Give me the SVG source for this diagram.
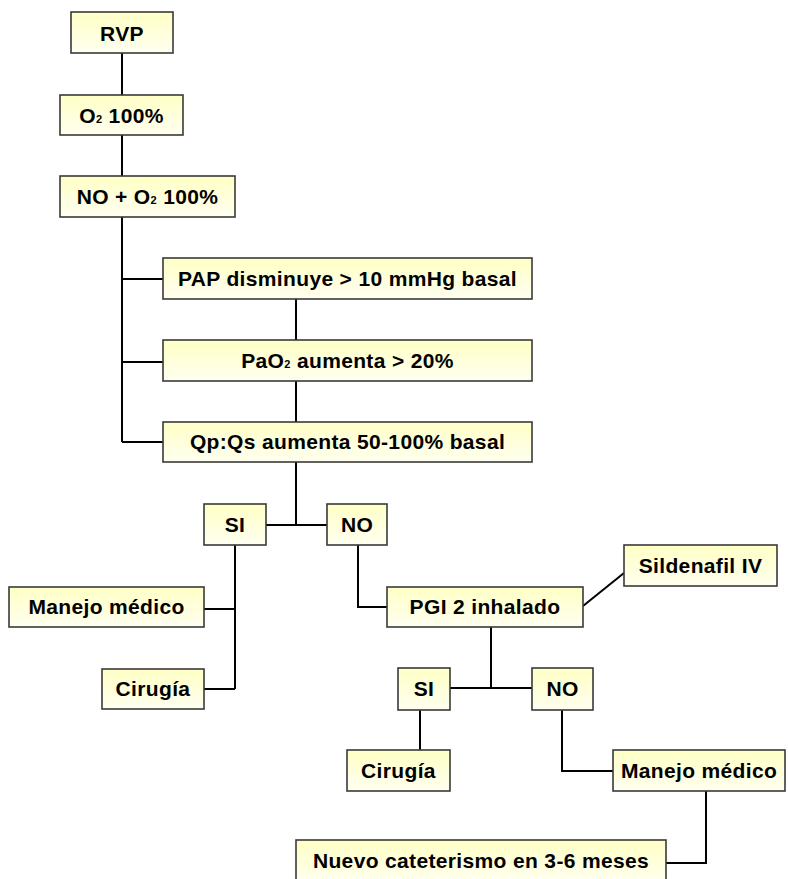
<svg xmlns="http://www.w3.org/2000/svg" width="788" height="879" viewBox="0 0 788 879">
  <defs>
    <linearGradient id="fillGrad" x1="0" y1="0" x2="0" y2="1">
      <stop offset="0" stop-color="#FFFFC6"/>
      <stop offset="1" stop-color="#FFFFF0"/>
    </linearGradient>
  </defs>
  <style>
    .box { fill: url(#fillGrad); stroke: #3a3a3a; stroke-width: 1.6; }
    .lbl { font-family: "Liberation Sans", Arial, sans-serif; font-weight: bold; font-size: 21px; letter-spacing: 0.35px; fill: #000; text-anchor: middle; }
    .sub { font-size: 11px; }
    .conn { fill: none; stroke: #000; stroke-width: 2; }
  </style>
  <rect width="788" height="879" fill="#FFFFFF"/>

  <g id="connectors" class="conn">
    <path d="M122,53 V95"/>
    <path d="M122,135 V176"/>
    <path d="M122,217 V442 M122,279 H163 M122,362 H163 M122,442 H163"/>
    <path d="M296,299 V340"/>
    <path d="M296,381 V422"/>
    <path d="M296,462 V525 M266,525 H327"/>
    <path d="M235,545 V689 M204,609 H235 M204,689 H235"/>
    <path d="M358,545 V607 H387"/>
    <path d="M583,606 L624,573"/>
    <path d="M491,627 V688 M450,688 H532"/>
    <path d="M420,710 V750"/>
    <path d="M562,710 V771 H613"/>
    <path d="M706,791 V863 H666"/>
  </g>

  <g id="rvp"><rect class="box" x="71" y="12" width="102" height="41"/><text class="lbl" x="122" y="41">RVP</text></g>
  <g id="o2"><rect class="box" x="60" y="95" width="123" height="40"/><text class="lbl" x="121.5" y="123">O<tspan class="sub">2</tspan> 100%</text></g>
  <g id="no-o2"><rect class="box" x="60" y="176" width="175" height="41"/><text class="lbl" x="147.5" y="204">NO + O<tspan class="sub">2</tspan> 100%</text></g>
  <g id="pap"><rect class="box" x="163" y="258" width="369" height="41"/><text class="lbl" x="347.5" y="286">PAP disminuye &gt; 10 mmHg basal</text></g>
  <g id="pao2"><rect class="box" x="163" y="340" width="369" height="41"/><text class="lbl" x="347.5" y="368">PaO<tspan class="sub">2</tspan> aumenta &gt; 20%</text></g>
  <g id="qpqs"><rect class="box" x="163" y="422" width="369" height="40"/><text class="lbl" x="347.5" y="449">Qp:Qs aumenta 50-100% basal</text></g>
  <g id="si1"><rect class="box" x="204" y="504" width="62" height="41"/><text class="lbl" x="235" y="532">SI</text></g>
  <g id="no1"><rect class="box" x="327" y="504" width="60" height="41"/><text class="lbl" x="357" y="532">NO</text></g>
  <g id="manejo1"><rect class="box" x="9" y="587" width="195" height="40"/><text class="lbl" x="106.5" y="614">Manejo médico</text></g>
  <g id="cirugia1"><rect class="box" x="102" y="669" width="102" height="40"/><text class="lbl" x="153" y="696">Cirugía</text></g>
  <g id="pgi"><rect class="box" x="387" y="587" width="196" height="40"/><text class="lbl" x="485" y="614">PGI 2 inhalado</text></g>
  <g id="sildenafil"><rect class="box" x="624" y="545" width="153" height="41"/><text class="lbl" x="700.5" y="573">Sildenafil IV</text></g>
  <g id="si2"><rect class="box" x="398" y="668" width="52" height="42"/><text class="lbl" x="424" y="696">SI</text></g>
  <g id="no2"><rect class="box" x="532" y="668" width="61" height="42"/><text class="lbl" x="562.5" y="696">NO</text></g>
  <g id="cirugia2"><rect class="box" x="347" y="750" width="103" height="41"/><text class="lbl" x="398.5" y="778">Cirugía</text></g>
  <g id="manejo2"><rect class="box" x="613" y="750" width="172" height="41"/><text class="lbl" x="699" y="778">Manejo médico</text></g>
  <g id="nuevo"><rect class="box" x="296" y="840" width="370" height="42"/><text class="lbl" x="481" y="868">Nuevo cateterismo en 3-6 meses</text></g>
</svg>
